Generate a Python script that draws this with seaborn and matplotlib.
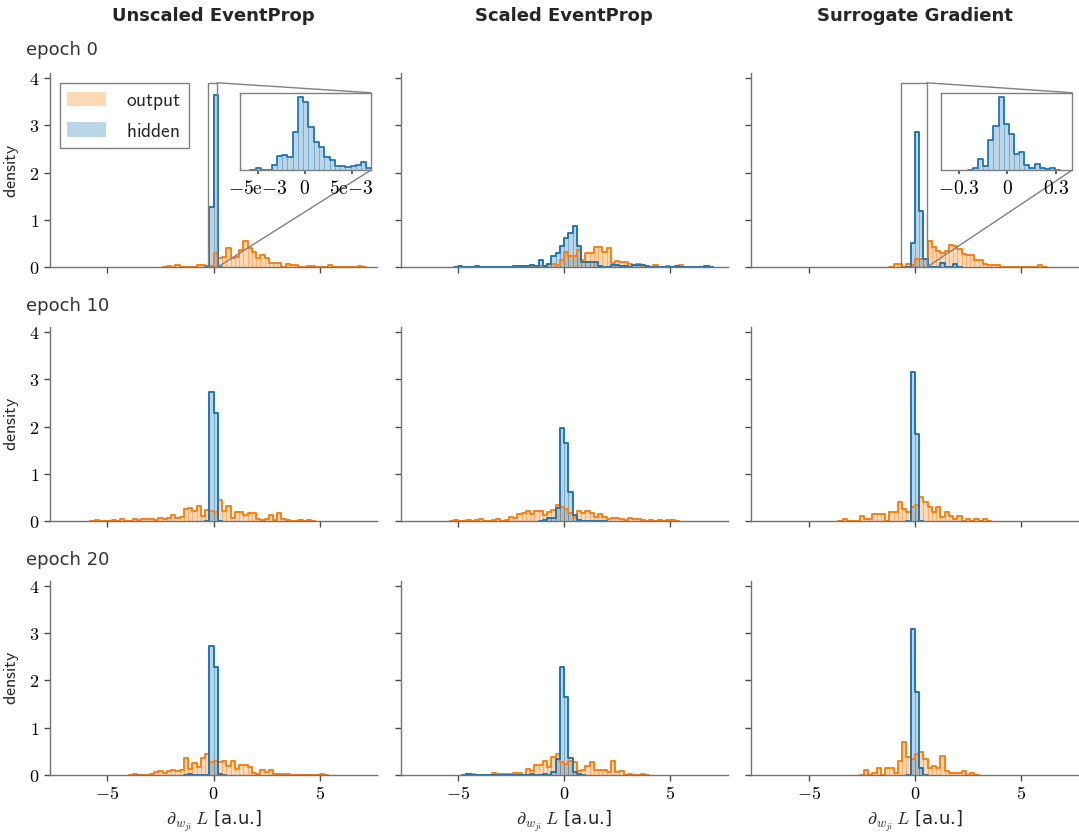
import numpy as np
import matplotlib
matplotlib.use("Agg")
import matplotlib.pyplot as plt
import seaborn as sns
from matplotlib.colors import to_rgba
from matplotlib.patches import Rectangle, Patch, ConnectionPatch

sns.set_theme(style="ticks")
plt.rcParams["font.family"] = ["DejaVu Sans"]
plt.rcParams["mathtext.fontset"] = "cm"
plt.rcParams["axes.edgecolor"] = "0.45"
plt.rcParams["axes.linewidth"] = 1.0
plt.rcParams["xtick.color"] = "0.3"
plt.rcParams["ytick.color"] = "0.3"
plt.rcParams["xtick.labelcolor"] = "black"
plt.rcParams["ytick.labelcolor"] = "black"

ORANGE = "#ff7f0e"
BLUE = "#1f77b4"

methods = ["Unscaled EventProp", "Scaled EventProp", "Surrogate Gradient"]
epochs = [0, 10, 20]

# Gradient densities on a common grid of 0.2-wide bins.
# Each series: left edge of its first bin, then the bin densities.
BIN_WIDTH = 0.2

# ---- epoch 0 ----
unscaled_e0_output_start = -2.2
unscaled_e0_output = [0.03, 0, 0.05, 0, 0, 0.015, 0.015, 0.05, 0.05, 0.035, 0.02,
                      0.30, 0.19, 0.22, 0.40, 0.19, 0.22, 0.37, 0.56, 0.40, 0.32,
                      0.20, 0.26, 0.19, 0.10, 0.10, 0.10, 0.015, 0.07, 0.05, 0.05,
                      0, 0, 0.03, 0.03, 0, 0, 0, 0.05, 0, 0, 0, 0, 0, 0, 0.03]
unscaled_e0_hidden_start = -0.2
unscaled_e0_hidden = [1.28, 3.65]

scaled_e0_output_start = -2.0
scaled_e0_output = [0.02, 0, 0, 0, 0.03, 0, 0.07, 0.07, 0.04, 0.15,
                    0.32, 0.25, 0.24, 0.37, 0.15, 0.30, 0.30, 0.44, 0.42, 0.33,
                    0.41, 0.10, 0.14, 0.12, 0.12, 0.07, 0.05, 0.07, 0.03, 0.02,
                    0, 0.04, 0, 0, 0.02, 0, 0, 0.05, 0, 0, 0, 0, 0, 0.03]
scaled_e0_hidden_start = -5.0
scaled_e0_hidden = [0.03, 0, 0, 0, 0.03, 0, 0, 0, 0, 0, 0, 0, 0,
                    0.03, 0.03, 0.02, 0.03, 0.06, 0.02, 0.15, 0.02, 0.08, 0.24,
                    0.31, 0.46, 0.63, 0.72, 0.87, 0.46, 0.12, 0.12, 0.12, 0.12,
                    0.02, 0, 0, 0.04, 0.04, 0.02, 0.03, 0, 0.04, 0.04, 0.04, 0.02,
                    0, 0, 0, 0, 0, 0, 0.03, 0, 0, 0, 0, 0, 0, 0.03]

surrogate_e0_output_start = -1.0
surrogate_e0_output = [0.07, 0.07, 0, 0.07, 0.05, 0.18, 0.18, 0.18, 0.55, 0.44,
                       0.35, 0.30, 0.35, 0.47, 0.45, 0.38, 0.28, 0.27, 0.26, 0.15,
                       0.15, 0.08, 0.05, 0.06, 0.06, 0, 0, 0, 0, 0, 0, 0, 0, 0,
                       0.06]
surrogate_e0_hidden_start = -0.2
surrogate_e0_hidden = [0.51, 2.85, 1.20, 0.18, 0, 0, 0, 0.10, 0, 0, 0.07]

# ---- epoch 10 ----
unscaled_e10_output_start = -5.6
unscaled_e10_output = [0.02, 0, 0, 0, 0.02, 0, 0.05, 0, 0, 0.05, 0.035, 0.05, 0.05,
                       0.05, 0.02, 0.07, 0.04, 0.06, 0.13, 0.06, 0.08, 0.25, 0.28,
                       0.21, 0.33, 0.11, 0.23, 0.21, 0.20, 0.45, 0.21, 0.32, 0.07,
                       0.19, 0.20, 0.13, 0.18, 0.18, 0.05, 0.02, 0.05, 0.14, 0.035,
                       0.18, 0.05, 0.02, 0, 0, 0.02, 0, 0.02]
unscaled_e10_hidden_start = -0.2
unscaled_e10_hidden = [2.72, 2.28]

scaled_e10_output_start = -5.2
scaled_e10_output = [0.02, 0, 0, 0.02, 0, 0.02, 0.05, 0, 0, 0.02, 0.05, 0, 0.02,
                     0.09, 0.06, 0.15, 0.18, 0.22, 0.15, 0.22, 0.22, 0.13, 0.20,
                     0.23, 0.34, 0.29, 0.25, 0.18, 0.08, 0.22, 0.18, 0.22, 0.18,
                     0.08, 0.16, 0.08, 0.05, 0.07, 0.07, 0.05, 0.02, 0.06, 0.05,
                     0.05, 0.02, 0, 0.02, 0, 0.035, 0, 0.02, 0.02]
scaled_e10_hidden_start = -1.0
scaled_e10_hidden = [0.02, 0.06, 0.06, 0.28, 1.97, 1.66, 0.61, 0.13, 0.02,
                     0, 0, 0, 0, 0.01]

surrogate_e10_output_start = -3.4
surrogate_e10_output = [0.05, 0, 0, 0, 0.10, 0.05, 0.05, 0.155, 0.155, 0.155, 0,
                        0.20, 0.20, 0.40, 0.25, 0.20, 0.30, 0.35, 0.51, 0.40,
                        0.30, 0.20, 0.30, 0.09, 0.20, 0.10, 0.05, 0.10, 0, 0.05,
                        0, 0.05, 0, 0.05]
surrogate_e10_hidden_start = -0.2
surrogate_e10_hidden = [3.15, 1.85]

# ---- epoch 20 ----
unscaled_e20_output_start = -3.8
unscaled_e20_output = [0.02, 0, 0, 0, 0.03, 0.06, 0.08, 0.04, 0.085, 0.11, 0.085,
                       0.10, 0.35, 0.13, 0.26, 0.16, 0.35, 0.45, 0.28, 0.29, 0.28,
                       0.29, 0.20, 0.29, 0.12, 0.22, 0.21, 0.16, 0.04, 0.03, 0.10,
                       0.06, 0.10, 0.03, 0.02, 0.02, 0.02, 0, 0, 0, 0, 0, 0, 0,
                       0.02]
unscaled_e20_hidden_start = -1.2
unscaled_e20_hidden = [0.02, 0, 0, 0, 0, 2.73, 2.28, 0.02]

scaled_e20_output_start = -4.6
scaled_e20_output = [0.015, 0.015, 0, 0, 0, 0, 0.05, 0.02, 0.02, 0.02, 0.02, 0.05,
                     0.05, 0.01, 0.13, 0.085, 0.22, 0.21, 0.30, 0.18, 0.38, 0.45,
                     0.27, 0.23, 0.30, 0.28, 0.09, 0.10, 0.19, 0.28, 0.10, 0.10,
                     0.10, 0.07, 0.30, 0.06, 0.08, 0, 0.02, 0, 0, 0.02]
scaled_e20_hidden_start = -4.6
scaled_e20_hidden = [0.015, 0, 0, 0, 0, 0, 0, 0, 0, 0, 0, 0, 0, 0, 0,
                     0.02, 0, 0, 0.02, 0, 0.07, 0.34, 2.29, 1.64, 0.37, 0.07, 0.03]

surrogate_e20_output_start = -2.4
surrogate_e20_output = [0.10, 0, 0.04, 0.15, 0, 0.15, 0.15, 0.04, 0.30, 0.70, 0.39,
                        0.34, 0.45, 0.49, 0.34, 0.14, 0.20, 0.15, 0.40, 0.09, 0.04,
                        0.04, 0.04, 0.09, 0, 0.04]
surrogate_e20_hidden_start = -0.2
surrogate_e20_hidden = [3.08, 1.75, 0.15]

# ---- zoomed hidden-layer histograms (epoch 0) ----
unscaled_zoom_start = -0.0052
unscaled_zoom_width = 0.00056
unscaled_zoom_hidden = [6, 0, 0, 17, 42, 46, 41, 117, 222, 207, 132, 85, 70, 39,
                        30, 14, 14, 9, 12, 17, 26, 7]
unscaled_zoom_ticks = [-5e-3, 0, 5e-3]
unscaled_zoom_ticklabels = [r"$-5\mathrm{e}{-3}$", r"$0$", r"$5\mathrm{e}{-3}$"]

surrogate_zoom_start = -0.213
surrogate_zoom_width = 0.0318
surrogate_zoom_hidden = [8, 35, 12, 90, 132, 220, 140, 110, 50, 55, 15, 8, 20, 8, 3, 8]
surrogate_zoom_ticks = [-0.3, 0, 0.3]
surrogate_zoom_ticklabels = [r"$-0.3$", r"$0$", r"$0.3$"]

output_series = [
    [(unscaled_e0_output_start, unscaled_e0_output),
     (scaled_e0_output_start, scaled_e0_output),
     (surrogate_e0_output_start, surrogate_e0_output)],
    [(unscaled_e10_output_start, unscaled_e10_output),
     (scaled_e10_output_start, scaled_e10_output),
     (surrogate_e10_output_start, surrogate_e10_output)],
    [(unscaled_e20_output_start, unscaled_e20_output),
     (scaled_e20_output_start, scaled_e20_output),
     (surrogate_e20_output_start, surrogate_e20_output)],
]
hidden_series = [
    [(unscaled_e0_hidden_start, unscaled_e0_hidden),
     (scaled_e0_hidden_start, scaled_e0_hidden),
     (surrogate_e0_hidden_start, surrogate_e0_hidden)],
    [(unscaled_e10_hidden_start, unscaled_e10_hidden),
     (scaled_e10_hidden_start, scaled_e10_hidden),
     (surrogate_e10_hidden_start, surrogate_e10_hidden)],
    [(unscaled_e20_hidden_start, unscaled_e20_hidden),
     (scaled_e20_hidden_start, scaled_e20_hidden),
     (surrogate_e20_hidden_start, surrogate_e20_hidden)],
]


def draw_hist(ax, start, heights, width, color, lw=1.4):
    """Filled bars plus a step outline, from binned densities."""
    # one empty bin on each side closes the outline at the baseline
    h = np.concatenate([[0.0], np.asarray(heights, float), [0.0]])
    edges = (start - width) + width * np.arange(len(h) + 1)
    centers = edges[:-1] + width / 2
    bins = [float(e) for e in edges]
    sns.histplot(x=centers, weights=h, bins=bins, stat="count",
                 element="bars", fill=True, color=color, alpha=0.3,
                 edgecolor=to_rgba(color, 0.3), linewidth=0.6, ax=ax)
    sns.histplot(x=centers, weights=h, bins=bins, stat="count",
                 element="step", fill=False, color=color, linewidth=lw, ax=ax)


def add_zoom(ax, start, width, heights, xlim, ticks, ticklabels, rect_x):
    axins = ax.inset_axes([0.58, 0.50, 0.40, 0.40])
    draw_hist(axins, start, heights, width, BLUE, lw=1.3)
    axins.set_xlim(*xlim)
    axins.set_ylim(0, max(heights) * 1.055)
    axins.set_yticks([])
    axins.set_ylabel("")
    axins.set_xlabel("")
    axins.set_xticks(ticks)
    axins.set_xticklabels(ticklabels, fontsize=14)
    axins.tick_params(axis="x", length=3, pad=3)
    for s in axins.spines.values():
        s.set_visible(True)
        s.set_color("0.5")
        s.set_linewidth(1.0)
    x0, x1 = rect_x
    top = 3.9
    ax.add_patch(Rectangle((x0, 0), x1 - x0, top, fill=False,
                           edgecolor="0.5", linewidth=1.0, zorder=5))
    for ya, yb in [(top, 1.0), (0.0, 0.0)]:
        con = ConnectionPatch(xyA=(x1, ya), coordsA=ax.transData,
                              xyB=(1.0, yb), coordsB=axins.transAxes,
                              color="0.5", linewidth=1.0, zorder=5)
        ax.add_artist(con)


fig = plt.figure(figsize=(10.79, 8.34), dpi=100)
axes = fig.subplots(3, 3, sharex=True, sharey=True)
fig.subplots_adjust(left=0.0463, right=0.9995, bottom=0.0707, top=0.9121,
                    wspace=0.072, hspace=0.308)

xlabel = r"$\partial_{w_{ji}}\, L$ [a.u.]"

for r in range(3):
    for c in range(3):
        ax = axes[r, c]
        s, h = output_series[r][c]
        draw_hist(ax, s, h, BIN_WIDTH, ORANGE)
        s, h = hidden_series[r][c]
        draw_hist(ax, s, h, BIN_WIDTH, BLUE)
        ax.set_xlim(-7.7, 7.7)
        ax.set_ylim(0, 4.1)
        ax.set_xticks([-5, 0, 5])
        ax.set_yticks([0, 1, 2, 3, 4])
        ax.set_ylabel(r"$\mathsf{density}$" if c == 0 else "", fontsize=13,
                      labelpad=6)
        ax.set_xlabel(xlabel if r == 2 else "", fontsize=13, labelpad=4)
        ax.tick_params(axis="both", length=4, width=1.0, labelsize=13)
        sns.despine(ax=ax)

for ax in axes[-1, :]:
    ax.set_xticklabels([r"$-5$", r"$0$", r"$5$"])
for ax in axes[:, 0]:
    ax.set_yticklabels([f"${v}$" for v in [0, 1, 2, 3, 4]])

add_zoom(axes[0, 0], unscaled_zoom_start, unscaled_zoom_width, unscaled_zoom_hidden,
         (-0.0069, 0.0070), unscaled_zoom_ticks, unscaled_zoom_ticklabels,
         (-0.25, 0.17))
add_zoom(axes[0, 2], surrogate_zoom_start, surrogate_zoom_width, surrogate_zoom_hidden,
         (-0.41, 0.40), surrogate_zoom_ticks, surrogate_zoom_ticklabels,
         (-0.64, 0.55))

handles = [Patch(facecolor=to_rgba(ORANGE, 0.3), edgecolor="none",
                 label=r"$\mathsf{output}$"),
           Patch(facecolor=to_rgba(BLUE, 0.3), edgecolor="none",
                 label=r"$\mathsf{hidden}$")]
leg = axes[0, 0].legend(handles=handles, loc="upper left", fontsize=14,
                        frameon=True, fancybox=False, framealpha=1.0,
                        handlelength=2.0, handleheight=0.8, labelspacing=0.5,
                        handletextpad=1.0, borderaxespad=0.5)
leg.get_frame().set_edgecolor("0.5")
leg.get_frame().set_linewidth(1.0)

for name, ax in zip(methods, axes[0, :]):
    pos = ax.get_position()
    fig.text((pos.x0 + pos.x1) / 2, 1 - 16 / 834, name, ha="center", va="center",
             fontsize=13, fontweight="bold", color="0.15")

epoch_y = [50, 306, 560]
for e, y in zip(epochs, epoch_y):
    fig.text(26 / 1079, 1 - y / 834, f"epoch {e}", ha="left", va="center",
             fontsize=13, color="0.2")

fig.savefig("out.png", dpi=100)
